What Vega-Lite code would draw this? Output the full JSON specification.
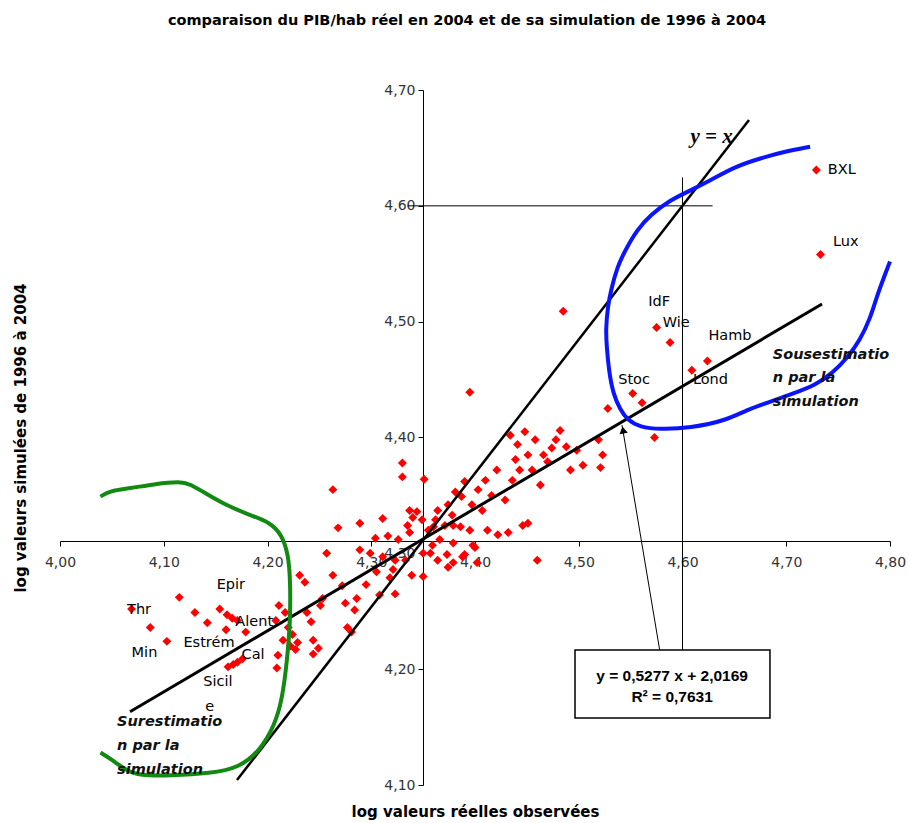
{
  "$schema": "https://vega.github.io/schema/vega-lite/v6.json",
  "width": 830,
  "height": 695,
  "autosize": "none",
  "padding": {"left": 60, "top": 90, "right": 19, "bottom": 38},
  "background": "white",
  "title": {"text": "comparaison  du PIB/hab réel en 2004 et de sa simulation de 1996 à 2004", "font": "DejaVu Sans", "fontSize": 14.5, "fontWeight": "bold", "color": "black", "frame": "group", "anchor": "middle", "offset": 55, "dx": -8},
  "config": {"view": {"stroke": null}},
  "datasets": {
    "points": [
      {"x": 4.208, "y": 4.242}, {"x": 4.211, "y": 4.255}, {"x": 4.215, "y": 4.225}, {"x": 4.217, "y": 4.249},
      {"x": 4.220, "y": 4.236}, {"x": 4.224, "y": 4.230}, {"x": 4.222, "y": 4.220}, {"x": 4.227, "y": 4.217},
      {"x": 4.229, "y": 4.223}, {"x": 4.231, "y": 4.281}, {"x": 4.236, "y": 4.275}, {"x": 4.238, "y": 4.249},
      {"x": 4.242, "y": 4.241}, {"x": 4.244, "y": 4.225}, {"x": 4.244, "y": 4.213}, {"x": 4.249, "y": 4.218},
      {"x": 4.251, "y": 4.255}, {"x": 4.253, "y": 4.261}, {"x": 4.257, "y": 4.300}, {"x": 4.263, "y": 4.355},
      {"x": 4.268, "y": 4.322}, {"x": 4.272, "y": 4.272}, {"x": 4.275, "y": 4.257}, {"x": 4.277, "y": 4.236},
      {"x": 4.281, "y": 4.232}, {"x": 4.284, "y": 4.251}, {"x": 4.286, "y": 4.261}, {"x": 4.289, "y": 4.303},
      {"x": 4.289, "y": 4.326}, {"x": 4.295, "y": 4.273}, {"x": 4.299, "y": 4.300}, {"x": 4.304, "y": 4.313},
      {"x": 4.305, "y": 4.284}, {"x": 4.308, "y": 4.264}, {"x": 4.311, "y": 4.330}, {"x": 4.311, "y": 4.297},
      {"x": 4.316, "y": 4.315}, {"x": 4.318, "y": 4.279}, {"x": 4.323, "y": 4.265}, {"x": 4.326, "y": 4.312},
      {"x": 4.330, "y": 4.378}, {"x": 4.330, "y": 4.366}, {"x": 4.333, "y": 4.294}, {"x": 4.335, "y": 4.324},
      {"x": 4.337, "y": 4.337}, {"x": 4.337, "y": 4.318}, {"x": 4.340, "y": 4.331}, {"x": 4.339, "y": 4.281},
      {"x": 4.344, "y": 4.336}, {"x": 4.349, "y": 4.329}, {"x": 4.351, "y": 4.364}, {"x": 4.355, "y": 4.320},
      {"x": 4.357, "y": 4.300}, {"x": 4.359, "y": 4.307}, {"x": 4.362, "y": 4.329}, {"x": 4.366, "y": 4.312},
      {"x": 4.371, "y": 4.324}, {"x": 4.374, "y": 4.342}, {"x": 4.378, "y": 4.333}, {"x": 4.381, "y": 4.353},
      {"x": 4.387, "y": 4.349}, {"x": 4.390, "y": 4.362}, {"x": 4.395, "y": 4.439},
      {"x": 4.397, "y": 4.342}, {"x": 4.400, "y": 4.305}, {"x": 4.403, "y": 4.355},
      {"x": 4.407, "y": 4.337}, {"x": 4.410, "y": 4.363}, {"x": 4.416, "y": 4.350},
      {"x": 4.421, "y": 4.372}, {"x": 4.429, "y": 4.346}, {"x": 4.434, "y": 4.402},
      {"x": 4.436, "y": 4.363}, {"x": 4.439, "y": 4.381}, {"x": 4.441, "y": 4.394}, {"x": 4.443, "y": 4.372},
      {"x": 4.448, "y": 4.405}, {"x": 4.451, "y": 4.385}, {"x": 4.455, "y": 4.372}, {"x": 4.458, "y": 4.398},
      {"x": 4.463, "y": 4.359}, {"x": 4.466, "y": 4.385}, {"x": 4.470, "y": 4.379}, {"x": 4.474, "y": 4.391},
      {"x": 4.478, "y": 4.398}, {"x": 4.482, "y": 4.406}, {"x": 4.485, "y": 4.509}, {"x": 4.488, "y": 4.392},
      {"x": 4.492, "y": 4.372}, {"x": 4.498, "y": 4.389}, {"x": 4.504, "y": 4.376}, {"x": 4.519, "y": 4.398},
      {"x": 4.521, "y": 4.374}, {"x": 4.523, "y": 4.385}, {"x": 4.528, "y": 4.425}, {"x": 4.552, "y": 4.438},
      {"x": 4.561, "y": 4.430}, {"x": 4.573, "y": 4.400}, {"x": 4.575, "y": 4.495}, {"x": 4.588, "y": 4.482},
      {"x": 4.609, "y": 4.458}, {"x": 4.624, "y": 4.466}, {"x": 4.729, "y": 4.631}, {"x": 4.733, "y": 4.558},
      {"x": 4.069, "y": 4.252}, {"x": 4.115, "y": 4.262}, {"x": 4.087, "y": 4.236}, {"x": 4.103, "y": 4.224},
      {"x": 4.130, "y": 4.249}, {"x": 4.142, "y": 4.240}, {"x": 4.154, "y": 4.252}, {"x": 4.160, "y": 4.234},
      {"x": 4.161, "y": 4.247}, {"x": 4.166, "y": 4.244}, {"x": 4.171, "y": 4.242}, {"x": 4.179, "y": 4.232},
      {"x": 4.162, "y": 4.202}, {"x": 4.167, "y": 4.204}, {"x": 4.171, "y": 4.206}, {"x": 4.176, "y": 4.209},
      {"x": 4.210, "y": 4.212}, {"x": 4.209, "y": 4.201},
      {"x": 4.360, "y": 4.323}, {"x": 4.379, "y": 4.324}, {"x": 4.395, "y": 4.320}, {"x": 4.323, "y": 4.294},
      {"x": 4.350, "y": 4.300}, {"x": 4.364, "y": 4.294}, {"x": 4.373, "y": 4.299}, {"x": 4.379, "y": 4.292},
      {"x": 4.388, "y": 4.297}, {"x": 4.263, "y": 4.281}, {"x": 4.350, "y": 4.280}, {"x": 4.321, "y": 4.286},
      {"x": 4.386, "y": 4.323}, {"x": 4.412, "y": 4.320}, {"x": 4.422, "y": 4.316}, {"x": 4.432, "y": 4.318},
      {"x": 4.446, "y": 4.324}, {"x": 4.451, "y": 4.326}, {"x": 4.379, "y": 4.309}, {"x": 4.398, "y": 4.307},
      {"x": 4.390, "y": 4.299}, {"x": 4.402, "y": 4.292}, {"x": 4.374, "y": 4.288}, {"x": 4.460, "y": 4.294},
      {"x": 4.364, "y": 4.337}
    ],
    "labels": [
      {"x": 4.0646, "y": 4.251, "t": "Thr"}, {"x": 4.151, "y": 4.273, "t": "Epir"},
      {"x": 4.169, "y": 4.241, "t": "Alent"}, {"x": 4.119, "y": 4.223, "t": "Estrém"},
      {"x": 4.069, "y": 4.214, "t": "Min"}, {"x": 4.175, "y": 4.212, "t": "Cal"},
      {"x": 4.138, "y": 4.189, "t": "Sicil"}, {"x": 4.140, "y": 4.167, "t": "e"},
      {"x": 4.740, "y": 4.631, "t": "BXL"}, {"x": 4.745, "y": 4.569, "t": "Lux"},
      {"x": 4.567, "y": 4.517, "t": "IdF"}, {"x": 4.581, "y": 4.499, "t": "Wie"},
      {"x": 4.625, "y": 4.488, "t": "Hamb"}, {"x": 4.610, "y": 4.450, "t": "Lond"},
      {"x": 4.538, "y": 4.450, "t": "Stoc"}
    ],
    "notes": [
      {"x": 4.687, "y": 4.471, "t": "Sousestimatio"}, {"x": 4.687, "y": 4.451, "t": "n par la"},
      {"x": 4.687, "y": 4.431, "t": "simulation"},
      {"x": 4.055, "y": 4.154, "t": "Surestimatio"}, {"x": 4.055, "y": 4.134, "t": "n par la"},
      {"x": 4.055, "y": 4.113, "t": "simulation"}
    ],
    "green": [
      {"o": 0, "x": 4.039, "y": 4.349}, {"o": 1, "x": 4.048, "y": 4.354}, {"o": 2, "x": 4.067, "y": 4.356},
      {"o": 3, "x": 4.092, "y": 4.360}, {"o": 4, "x": 4.116, "y": 4.362}, {"o": 5, "x": 4.125, "y": 4.360},
      {"o": 6, "x": 4.140, "y": 4.352}, {"o": 7, "x": 4.159, "y": 4.342}, {"o": 8, "x": 4.183, "y": 4.333},
      {"o": 9, "x": 4.202, "y": 4.327}, {"o": 10, "x": 4.214, "y": 4.316}, {"o": 11, "x": 4.220, "y": 4.299},
      {"o": 12, "x": 4.222, "y": 4.277}, {"o": 13, "x": 4.222, "y": 4.242}, {"o": 14, "x": 4.219, "y": 4.208},
      {"o": 15, "x": 4.214, "y": 4.173}, {"o": 16, "x": 4.207, "y": 4.152}, {"o": 17, "x": 4.193, "y": 4.130},
      {"o": 18, "x": 4.173, "y": 4.115}, {"o": 19, "x": 4.145, "y": 4.110}, {"o": 20, "x": 4.106, "y": 4.108},
      {"o": 21, "x": 4.077, "y": 4.108}, {"o": 22, "x": 4.063, "y": 4.113}, {"o": 23, "x": 4.050, "y": 4.122},
      {"o": 24, "x": 4.039, "y": 4.128}
    ],
    "blue": [
      {"o": 0, "x": 4.723, "y": 4.651}, {"o": 1, "x": 4.699, "y": 4.647}, {"o": 2, "x": 4.675, "y": 4.641},
      {"o": 3, "x": 4.651, "y": 4.634}, {"o": 4, "x": 4.627, "y": 4.622}, {"o": 5, "x": 4.607, "y": 4.613},
      {"o": 6, "x": 4.588, "y": 4.605}, {"o": 7, "x": 4.569, "y": 4.592}, {"o": 8, "x": 4.556, "y": 4.579},
      {"o": 9, "x": 4.545, "y": 4.562}, {"o": 10, "x": 4.537, "y": 4.547}, {"o": 11, "x": 4.531, "y": 4.527},
      {"o": 12, "x": 4.528, "y": 4.513}, {"o": 13, "x": 4.526, "y": 4.493}, {"o": 14, "x": 4.527, "y": 4.478},
      {"o": 15, "x": 4.529, "y": 4.458}, {"o": 16, "x": 4.533, "y": 4.438}, {"o": 17, "x": 4.540, "y": 4.424},
      {"o": 18, "x": 4.547, "y": 4.415}, {"o": 19, "x": 4.559, "y": 4.409}, {"o": 20, "x": 4.578, "y": 4.407},
      {"o": 21, "x": 4.607, "y": 4.408}, {"o": 22, "x": 4.643, "y": 4.415}, {"o": 23, "x": 4.662, "y": 4.424},
      {"o": 24, "x": 4.685, "y": 4.431}, {"o": 25, "x": 4.707, "y": 4.438}, {"o": 26, "x": 4.728, "y": 4.445},
      {"o": 27, "x": 4.745, "y": 4.456}, {"o": 28, "x": 4.759, "y": 4.469}, {"o": 29, "x": 4.771, "y": 4.484},
      {"o": 30, "x": 4.781, "y": 4.503}, {"o": 31, "x": 4.787, "y": 4.521}, {"o": 32, "x": 4.794, "y": 4.538},
      {"o": 33, "x": 4.800, "y": 4.552}
    ],
    "yx": [{"o": 0, "x": 4.1706, "y": 4.1043}, {"o": 1, "x": 4.6641, "y": 4.6741}],
    "reg": [{"o": 0, "x": 4.0675, "y": 4.1633}, {"o": 1, "x": 4.7345, "y": 4.5153}],
    "hline": [{"o": 0, "x": 4.335, "y": 4.60}, {"o": 1, "x": 4.629, "y": 4.60}],
    "vline": [{"o": 0, "x": 4.60, "y": 4.6245}, {"o": 1, "x": 4.60, "y": 4.2165}],
    "arrow": [{"o": 0, "x": 4.578, "y": 4.2165}, {"o": 1, "x": 4.5417, "y": 4.4108}],
    "head": [{"x": 4.5427, "y": 4.4065}],
    "box": [{"x": 4.4964, "x2": 4.6843, "y": 4.2165, "y2": 4.1578}],
    "boxtext": [{"x": 4.590, "y": 4.194, "t": "y = 0,5277 x + 2,0169"}, {"x": 4.590, "y": 4.176, "t": "R² = 0,7631"}],
    "yxtext": [{"x": 4.628, "y": 4.659, "t": "y = x"}]
  },
  "resolve": {"axis": {"x": "independent", "y": "independent"}},
  "layer": [
    {
      "data": {"name": "points"},
      "mark": {"type": "point", "shape": "diamond", "filled": true, "color": "#ff0000", "size": 80, "opacity": 1},
      "encoding": {
        "x": {"field": "x", "type": "quantitative", "scale": {"domain": [4.0, 4.8], "nice": false, "zero": false},
          "axis": {"orient": "bottom", "offset": -244, "values": [4.0, 4.1, 4.2, 4.3, 4.4, 4.5, 4.6, 4.7, 4.8],
            "labelExpr": "replace(format(datum.value, '.2f'), '.', ',')", "title": null, "grid": false,
            "tickSize": 5, "labelPadding": 9, "labelFont": "DejaVu Sans", "labelFontSize": 14, "labelColor": "#333",
            "domainColor": "black", "tickColor": "black", "labelFlush": false, "labelOverlap": false}},
        "y": {"field": "y", "type": "quantitative", "scale": {"domain": [4.1, 4.7], "nice": false, "zero": false},
          "axis": {"orient": "left", "offset": -363, "values": [4.1, 4.2, 4.3, 4.4, 4.5, 4.6, 4.7],
            "labelExpr": "replace(format(datum.value, '.2f'), '.', ',')", "title": null, "grid": false,
            "tickSize": 5, "labelPadding": 3, "labelFont": "DejaVu Sans", "labelFontSize": 14, "labelColor": "#333",
            "domainColor": "black", "tickColor": "black", "labelFlush": false, "labelOverlap": false}}
      }
    },
    {
      "data": {"name": "reg"},
      "mark": {"type": "line", "color": "black", "strokeWidth": 3},
      "encoding": {
        "x": {"field": "x", "type": "quantitative", "scale": {"domain": [4.0, 4.8], "nice": false, "zero": false},
          "axis": {"orient": "bottom", "labels": false, "ticks": false, "tickSize": 0, "domain": false, "grid": false,
            "title": "log valeurs réelles observées", "titleFont": "DejaVu Sans", "titleFontSize": 15, "titleFontWeight": "bold", "titleColor": "black", "titlePadding": 19}},
        "y": {"field": "y", "type": "quantitative", "scale": {"domain": [4.1, 4.7], "nice": false, "zero": false},
          "axis": {"orient": "left", "labels": false, "ticks": false, "tickSize": 0, "domain": false, "grid": false,
            "title": "log valeurs  simulées de 1996 à 2004", "titleFont": "DejaVu Sans", "titleFontSize": 15, "titleFontWeight": "bold", "titleColor": "black", "titlePadding": 32}},
        "order": {"field": "o"}
      }
    },
    {
      "data": {"name": "yx"},
      "mark": {"type": "line", "color": "black", "strokeWidth": 2.5},
      "encoding": {
        "x": {"field": "x", "type": "quantitative", "scale": {"domain": [4.0, 4.8]}, "axis": null},
        "y": {"field": "y", "type": "quantitative", "scale": {"domain": [4.1, 4.7]}, "axis": null},
        "order": {"field": "o"}
      }
    },
    {
      "data": {"name": "hline"},
      "mark": {"type": "line", "color": "black", "strokeWidth": 1},
      "encoding": {
        "x": {"field": "x", "type": "quantitative", "scale": {"domain": [4.0, 4.8]}, "axis": null},
        "y": {"field": "y", "type": "quantitative", "scale": {"domain": [4.1, 4.7]}, "axis": null},
        "order": {"field": "o"}
      }
    },
    {
      "data": {"name": "vline"},
      "mark": {"type": "line", "color": "black", "strokeWidth": 1},
      "encoding": {
        "x": {"field": "x", "type": "quantitative", "scale": {"domain": [4.0, 4.8]}, "axis": null},
        "y": {"field": "y", "type": "quantitative", "scale": {"domain": [4.1, 4.7]}, "axis": null},
        "order": {"field": "o"}
      }
    },
    {
      "data": {"name": "green"},
      "mark": {"type": "line", "color": "#128a12", "strokeWidth": 4, "interpolate": "basis"},
      "encoding": {
        "x": {"field": "x", "type": "quantitative", "scale": {"domain": [4.0, 4.8]}, "axis": null},
        "y": {"field": "y", "type": "quantitative", "scale": {"domain": [4.1, 4.7]}, "axis": null},
        "order": {"field": "o"}
      }
    },
    {
      "data": {"name": "blue"},
      "mark": {"type": "line", "color": "#0a14ff", "strokeWidth": 4, "interpolate": "basis"},
      "encoding": {
        "x": {"field": "x", "type": "quantitative", "scale": {"domain": [4.0, 4.8]}, "axis": null},
        "y": {"field": "y", "type": "quantitative", "scale": {"domain": [4.1, 4.7]}, "axis": null},
        "order": {"field": "o"}
      }
    },
    {
      "data": {"name": "arrow"},
      "mark": {"type": "line", "color": "black", "strokeWidth": 1},
      "encoding": {
        "x": {"field": "x", "type": "quantitative", "scale": {"domain": [4.0, 4.8]}, "axis": null},
        "y": {"field": "y", "type": "quantitative", "scale": {"domain": [4.1, 4.7]}, "axis": null},
        "order": {"field": "o"}
      }
    },
    {
      "data": {"name": "head"},
      "mark": {"type": "point", "shape": "triangle-up", "filled": true, "color": "black", "size": 70, "angle": 350, "opacity": 1},
      "encoding": {
        "x": {"field": "x", "type": "quantitative", "scale": {"domain": [4.0, 4.8]}, "axis": null},
        "y": {"field": "y", "type": "quantitative", "scale": {"domain": [4.1, 4.7]}, "axis": null}
      }
    },
    {
      "data": {"name": "box"},
      "mark": {"type": "rect", "fill": "white", "stroke": "black", "strokeWidth": 1.5},
      "encoding": {
        "x": {"field": "x", "type": "quantitative", "scale": {"domain": [4.0, 4.8]}, "axis": null},
        "x2": {"field": "x2"},
        "y": {"field": "y", "type": "quantitative", "scale": {"domain": [4.1, 4.7]}, "axis": null},
        "y2": {"field": "y2"}
      }
    },
    {
      "data": {"name": "boxtext"},
      "mark": {"type": "text", "font": "Liberation Sans", "fontSize": 15.5, "fontWeight": "bold", "color": "black", "align": "center", "baseline": "middle"},
      "encoding": {
        "x": {"field": "x", "type": "quantitative", "scale": {"domain": [4.0, 4.8]}, "axis": null},
        "y": {"field": "y", "type": "quantitative", "scale": {"domain": [4.1, 4.7]}, "axis": null},
        "text": {"field": "t"}
      }
    },
    {
      "data": {"name": "labels"},
      "mark": {"type": "text", "font": "DejaVu Sans", "fontSize": 14.5, "color": "black", "align": "left", "baseline": "middle"},
      "encoding": {
        "x": {"field": "x", "type": "quantitative", "scale": {"domain": [4.0, 4.8]}, "axis": null},
        "y": {"field": "y", "type": "quantitative", "scale": {"domain": [4.1, 4.7]}, "axis": null},
        "text": {"field": "t"}
      }
    },
    {
      "data": {"name": "notes"},
      "mark": {"type": "text", "font": "DejaVu Sans", "fontSize": 14.5, "fontWeight": "bold", "fontStyle": "italic", "color": "#111", "align": "left", "baseline": "middle"},
      "encoding": {
        "x": {"field": "x", "type": "quantitative", "scale": {"domain": [4.0, 4.8]}, "axis": null},
        "y": {"field": "y", "type": "quantitative", "scale": {"domain": [4.1, 4.7]}, "axis": null},
        "text": {"field": "t"}
      }
    },
    {
      "data": {"name": "yxtext"},
      "mark": {"type": "text", "font": "Liberation Serif", "fontSize": 21, "fontWeight": "bold", "fontStyle": "italic", "color": "black", "align": "center", "baseline": "middle"},
      "encoding": {
        "x": {"field": "x", "type": "quantitative", "scale": {"domain": [4.0, 4.8]}, "axis": null},
        "y": {"field": "y", "type": "quantitative", "scale": {"domain": [4.1, 4.7]}, "axis": null},
        "text": {"field": "t"}
      }
    }
  ]
}
